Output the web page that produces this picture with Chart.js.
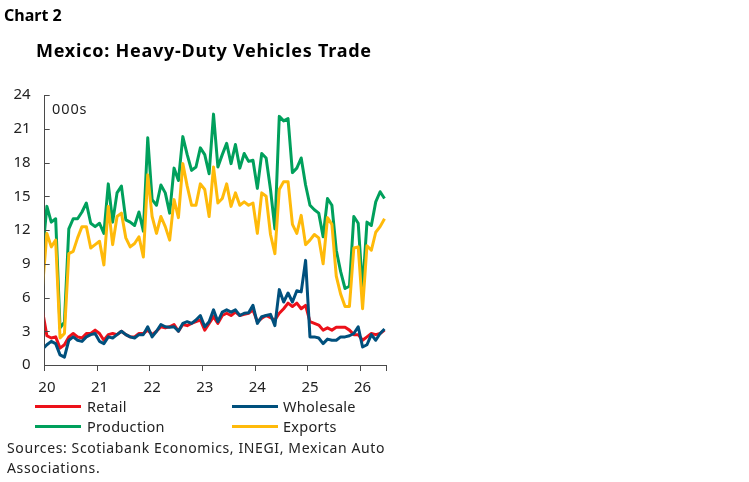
<!DOCTYPE html>
<html>
<head>
<meta charset="utf-8">
<script src="https://cdn.jsdelivr.net/npm/chart.js@4"></script>
<style>
  html, body { margin: 0; padding: 0; background: #fff; }
  body { width: 749px; height: 482px; position: relative; overflow: hidden; font-family: "Noto Sans", sans-serif; }
  #c { position: absolute; left: 0; top: 0; }
  .t { position: absolute; white-space: nowrap; color: #222; }
  .lg { font-size: 14.5px; letter-spacing: 0.3px; }
  .src { font-size: 14px; letter-spacing: 0.62px; }
  .sw { position: absolute; height: 3px; width: 46px; }
</style>
</head>
<body>
<canvas id="c" width="749" height="482"></canvas>
<div class="t" style="left:4px;top:4px;font-size:16px;font-weight:700;color:#000;">Chart 2</div>
<div class="t" style="left:36px;top:38px;font-size:18px;font-weight:700;color:#000;letter-spacing:0.75px;">Mexico: Heavy-Duty Vehicles Trade</div>
<div class="t" style="left:52px;top:98px;font-size:14.5px;letter-spacing:0.9px;color:#222;">000s</div>

<div class="sw" style="left:35px;top:405px;background:#EC111A;"></div>
<div class="t lg" style="left:87px;top:396px;">Retail</div>
<div class="sw" style="left:232px;top:405px;background:#00507D;"></div>
<div class="t lg" style="left:283px;top:396px;">Wholesale</div>
<div class="sw" style="left:35px;top:425px;background:#00A05C;"></div>
<div class="t lg" style="left:87px;top:416px;">Production</div>
<div class="sw" style="left:232px;top:425px;background:#FFBA0A;"></div>
<div class="t lg" style="left:283px;top:416px;">Exports</div>
<div class="t src" style="left:7px;top:438px;">Sources: Scotiabank Economics, INEGI, Mexican Auto</div>
<div class="t src" style="left:7px;top:458px;">Associations.</div>

<script>
// Monthly data, Dec 2019 (partly clipped at the axis start) through Jun 2026, thousands of units
const yearLabels = ['20', '21', '22', '23', '24', '25', '26'];

const retail = [
  4.8,
  2.6, 2.4, 2.5, 1.5, 1.8, 2.5, 2.8, 2.5, 2.4, 2.8, 2.8, 3.1,
  2.8, 2.2, 2.7, 2.8, 2.7, 3.0, 2.7, 2.5, 2.5, 2.8, 2.8, 3.1,
  2.7, 3.0, 3.4, 3.3, 3.4, 3.6, 3.0, 3.6, 3.5, 3.7, 3.85, 4.0,
  3.1, 3.7, 4.3, 3.7, 4.4, 4.6, 4.4, 4.7, 4.4, 4.5, 4.6, 4.9,
  3.85, 4.15, 4.4, 4.2, 4.0, 4.6, 5.0, 5.5, 5.2, 5.5, 5.0, 5.3,
  3.85, 3.7, 3.55, 3.1, 3.3, 3.1, 3.35, 3.35, 3.35, 3.1, 2.7, 2.7,
  2.2, 2.5, 2.8, 2.7, 2.8, 3.1
];
const wholesale = [
  1.4,
  1.8, 2.1, 1.9, 0.9, 0.7, 2.2, 2.5, 2.2, 2.1, 2.5, 2.7, 2.8,
  2.1, 1.9, 2.5, 2.4, 2.7, 3.0, 2.7, 2.5, 2.4, 2.7, 2.7, 3.4,
  2.5, 3.0, 3.6, 3.4, 3.35, 3.4, 3.0, 3.7, 3.85, 3.7, 4.0, 4.4,
  3.4, 3.85, 4.9, 3.85, 4.7, 4.9, 4.7, 4.9, 4.4, 4.6, 4.65, 5.3,
  3.7, 4.3, 4.4, 4.5, 3.5, 6.7, 5.6, 6.4, 5.6, 6.6, 6.5, 9.3,
  2.5, 2.5, 2.4, 1.9, 2.3, 2.2, 2.2, 2.5, 2.5, 2.6, 2.8, 3.4,
  1.6, 1.8, 2.7, 2.2, 2.8, 3.2
];
const production = [
  9.9,
  14.1, 12.7, 13.0, 3.3, 3.8, 12.1, 13.0, 13.0, 13.6, 14.4, 12.6, 12.3,
  12.6, 11.7, 16.1, 12.7, 15.3, 15.9, 12.9, 12.7, 12.4, 13.6, 11.9, 20.2,
  14.7, 14.2, 16.0, 15.3, 13.5, 17.5, 16.4, 20.3, 18.7, 17.3, 17.6, 19.3,
  18.7, 17.0, 22.3, 17.6, 18.7, 19.7, 17.9, 19.6, 17.5, 18.8, 18.1, 18.2,
  15.7, 18.8, 18.4, 15.6, 12.1, 22.1, 21.7, 21.9, 17.1, 17.5, 18.4, 16.0,
  14.2, 13.8, 13.5, 11.4, 14.8, 14.2, 10.2, 8.3, 6.8, 7.0, 13.2, 12.6,
  6.7, 12.7, 12.4, 14.5, 15.4, 14.8
];
const exportsData = [
  6.9,
  11.7, 10.5, 11.1, 2.4, 2.8, 9.9, 10.1, 11.3, 12.3, 12.3, 10.4, 10.7,
  11.0, 8.9, 14.1, 10.7, 13.2, 13.5, 11.3, 10.5, 10.8, 11.4, 9.6, 16.9,
  13.2, 11.7, 13.2, 12.3, 11.1, 14.7, 13.1, 17.9, 15.9, 14.2, 14.2, 16.1,
  15.6, 13.2, 17.6, 14.4, 14.8, 16.1, 14.1, 15.3, 14.2, 14.5, 14.2, 14.4,
  11.7, 15.3, 15.0, 11.6, 9.9, 15.6, 16.3, 16.3, 12.5, 11.7, 13.3, 10.7,
  11.1, 11.6, 11.3, 9.0, 13.1, 12.5, 7.9, 6.3, 5.2, 5.2, 10.4, 10.5,
  5.0, 10.6, 10.2, 11.8, 12.3, 13.0
];

// month position: Dec 2019 sits half a month before the axis start, Jan 2020 mid-month, etc.
const toPoints = arr => arr.map((v, i) => ({ x: i - 0.5, y: v }));

const AXIS = '#4a4a4a';
const TXT = '#222';
const FONT = '"Noto Sans", sans-serif';

const innerTicks = {
  id: 'innerTicks',
  afterDraw(chart) {
    const y = chart.scales.y, ctx = chart.ctx, left = chart.chartArea.left;
    ctx.save();
    ctx.strokeStyle = AXIS;
    ctx.lineWidth = 1;
    y.ticks.forEach(t => {
      const py = Math.round(y.getPixelForValue(t.value)) + 0.5;
      ctx.beginPath();
      ctx.moveTo(left, py);
      ctx.lineTo(left + 5, py);
      ctx.stroke();
    });
    ctx.restore();
  }
};

const common = { borderWidth: 3, pointRadius: 0, tension: 0, fill: false, borderJoinStyle: 'round' };

new Chart(document.getElementById('c'), {
  type: 'line',
  data: {
    datasets: [
      { label: 'Exports', data: toPoints(exportsData), borderColor: '#FFBA0A', order: 0, ...common },
      { label: 'Production', data: toPoints(production), borderColor: '#00A05C', order: 1, ...common },
      { label: 'Wholesale', data: toPoints(wholesale), borderColor: '#00507D', order: 2, ...common },
      { label: 'Retail', data: toPoints(retail), borderColor: '#EC111A', order: 3, ...common }
    ]
  },
  options: {
    responsive: false,
    animation: false,
    devicePixelRatio: 1,
    layout: { padding: { left: 0, right: 362.3, top: 95, bottom: 0 } },
    plugins: { legend: { display: false }, tooltip: { enabled: false }, title: { display: false } },
    scales: {
      x: {
        type: 'linear',
        min: 0,
        max: 78,
        afterFit: s => { s.height = 117; },
        ticks: {
          stepSize: 12,
          autoSkip: false,
          maxRotation: 0,
          labelOffset: 2.2,
          padding: 8,
          color: TXT,
          font: { family: FONT, size: 15 },
          callback: v => (v % 12 === 0 ? yearLabels[v / 12] : '')
        },
        grid: { display: true, drawOnChartArea: false, drawTicks: true, tickLength: 6, color: AXIS },
        border: { display: true, color: AXIS, width: 1 }
      },
      y: {
        min: 0,
        max: 24,
        afterFit: s => { s.width = 44.7; },
        ticks: { stepSize: 3, padding: 14, color: TXT, font: { family: FONT, size: 15 } },
        grid: { display: false, drawTicks: false },
        border: { display: true, color: AXIS, width: 1 }
      }
    }
  },
  plugins: [innerTicks]
});
</script>
</body>
</html>
